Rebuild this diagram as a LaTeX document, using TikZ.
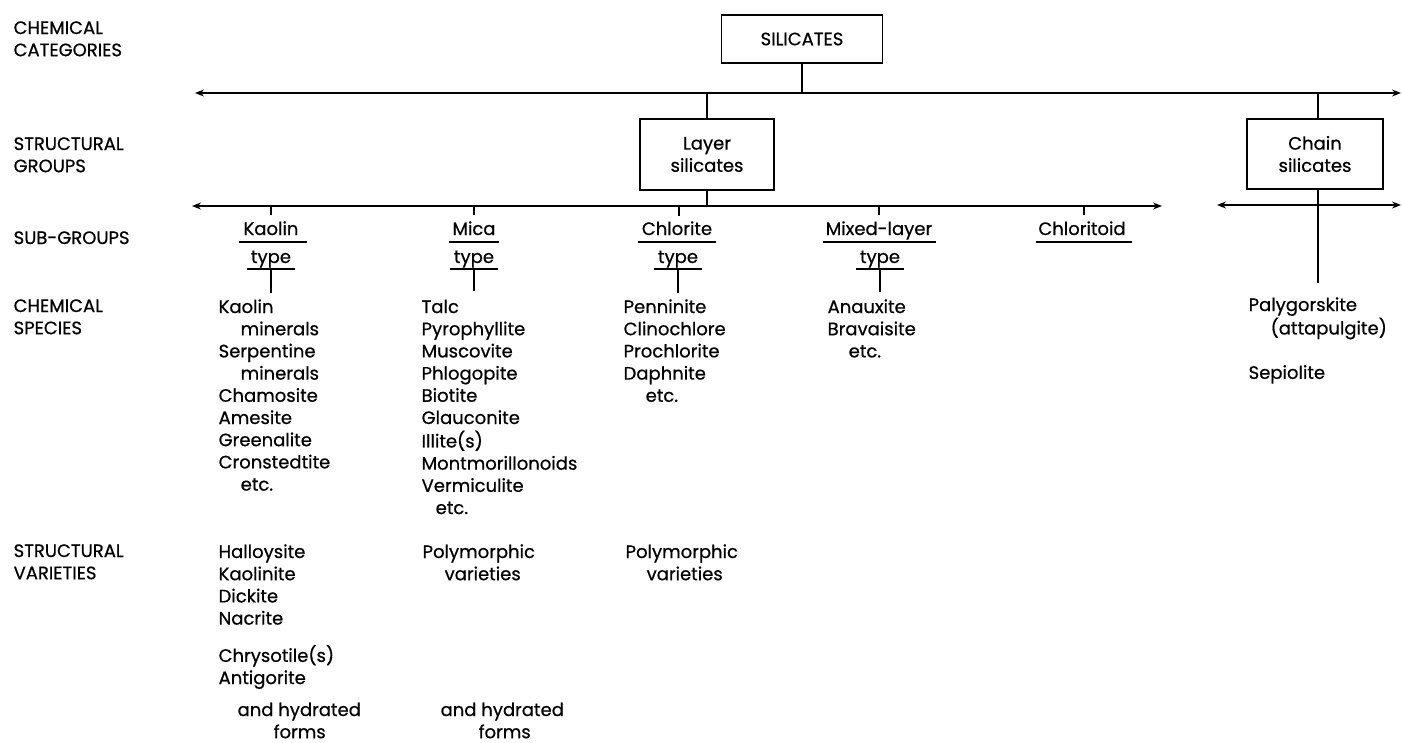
\documentclass[tikz,border=0pt]{standalone}
\usepackage{fontspec}
\setmainfont{Poppins}[FakeBold=0.6]
\usetikzlibrary{arrows.meta,calc}
\newcommand{\myfs}{\fontsize{18}{22.2}\selectfont}
\newcommand{\mycol}[1]{\begin{tabular}[t]{@{}l@{}}#1\end{tabular}}
\tikzset{
  lbl/.style={font=\myfs, inner sep=0pt, anchor=base west},
  sub/.style={font=\myfs, inner sep=0pt, anchor=base},
  box/.style={draw, line width=1.4pt, inner sep=0pt, align=center, font=\myfs},
  arr/.style={{Stealth[length=9pt,width=7pt]}-{Stealth[length=9pt,width=7pt]}},
}
\begin{document}
\begin{tikzpicture}[x=1pt,y=-1pt,line width=1.3pt]
\useasboundingbox (0,0) rectangle (1402,742);

% left level labels
\node[lbl] (lcat) at (13,34) {\mycol{CHEMICAL\\CATEGORIES}};
\node[lbl] (lgrp) at (13,150) {\mycol{STRUCTURAL\\GROUPS}};
\node[lbl] (lsub) at (13,244) {SUB-GROUPS};
\node[lbl] (lspe) at (13,312) {\mycol{CHEMICAL\\SPECIES}};
\node[lbl] (lvar) at (13,557) {\mycol{STRUCTURAL\\VARIETIES}};

% boxes
\node[box, minimum width=161pt, minimum height=48pt] (sil) at (802,39) {SILICATES};
\node[box, minimum width=134pt, minimum height=71pt] (layer) at (707,154.5) {Layer\\silicates};
\node[box, minimum width=136pt, minimum height=70pt] (chain) at (1315,154) {Chain\\silicates};

% main horizontal lines
\coordinate (t1) at (195,93);
\coordinate (t2) at (1401,93);
\draw[arr] (t1) -- (t2);
\draw (sil.south) -- (sil.south |- t1);
\draw (layer.north) -- (layer.north |- t1);
\draw ([xshift=3pt]chain.north) -- ([xshift=3pt]chain.north |- t1);

\coordinate (l1) at (192,206);
\coordinate (l2) at (1162,206);
\draw[arr] (l1) -- (l2);
\draw (layer.south) -- (layer.south |- l1);

\coordinate (c1) at (1217,205);
\coordinate (c2) at (1401,205);
\draw[arr] (c1) -- (c2);
\coordinate (chend) at (1318,283);
\draw ([xshift=3pt]chain.south) -- (chend);

% sub-groups
\node[sub] (kao) at (271,235) {Kaolin};
\node[sub] (kty) at (271,263) {type};
\node[sub] (mic) at (474,235) {Mica};
\node[sub] (mty) at (474,263) {type};
\node[sub] (chl) at (677,235) {Chlorite};
\node[sub] (cty) at (678,263) {type};
\node[sub] (mix) at (879,235) {Mixed-layer};
\node[sub] (xty) at (880,263) {type};
\node[sub] (cld) at (1082,235) {Chloritoid};

% ticks from sub-group line
\draw (l1 -| kao) -- ++(0,9);
\draw (l1 -| mic) -- ++(0,9);
\draw ([xshift=2pt]l1 -| chl) -- ++(0,10);
\draw (l1 -| mix) -- ++(0,9);
\draw ([xshift=2pt]l1 -| cld) -- ++(0,9);

% underlines
\foreach \n/\a/\b in {kao/4/8, mic/3/3, chl/3/3, mix/2/3, cld/2/6}{
  \draw[line width=1.1pt] ($(\n.base west)+(-\a,7)$) -- ($(\n.base east)+(\b,7)$);
}
\foreach \n in {kty,mty,cty,xty}{
  \draw[line width=1.1pt] ($(\n.base west)+(-3,6)$) -- ($(\n.base east)+(3,6)$);
}

% chemical species
\node[lbl] (kspe) at (218,313) {\mycol{Kaolin\\\hspace*{22pt}minerals\\Serpentine\\\hspace*{22pt}minerals\\Chamosite\\Amesite\\Greenalite\\Cronstedtite\\\hspace*{22pt}etc.}};
\node[lbl] (mspe) at (421,313) {\mycol{Talc\\Pyrophyllite\\Muscovite\\Phlogopite\\Biotite\\Glauconite\\Illite(s)\\Montmorillonoids\\Vermiculite\\\hspace*{14pt}etc.}};
\node[lbl] (cspe) at (623,313) {\mycol{Penninite\\Clinochlore\\Prochlorite\\Daphnite\\\hspace*{22pt}etc.}};
\node[lbl] (xspe) at (827,313) {\mycol{Anauxite\\Bravaisite\\\hspace*{21pt}etc.}};
\node[lbl] (hspe) at (1248,311) {\mycol{Palygorskite\\\hspace*{22pt}(attapulgite)\\[22.2pt]Sepiolite}};

% type -> species connectors
\draw ($(kty.base)+(0,6)$) -- ($(kty.base)+(0,30)$);
\draw ($(mty.base)+(0,6)$) -- ($(mty.base)+(0,28)$);
\draw ($(cty.base)+(0,6)$) -- ($(cty.base)+(0,30)$);
\draw ($(xty.base)+(0,6)$) -- ($(xty.base)+(0,29)$);

% structural varieties
\node[lbl] (kvar) at (218,558) {\mycol{Halloysite\\Kaolinite\\Dickite\\Nacrite\\[13.8pt]Chrysotile(s)\\Antigorite}};
\node[lbl] (kvar2) at (237,716) {\mycol{and hydrated\\\hspace*{36pt}forms}};
\node[lbl] (mvar) at (422,558) {\mycol{Polymorphic\\\hspace*{22pt}varieties}};
\node[lbl] (mvar2) at (440,716) {\mycol{and hydrated\\\hspace*{38pt}forms}};
\node[lbl] (cvar) at (625,558) {\mycol{Polymorphic\\\hspace*{21pt}varieties}};
\end{tikzpicture}
\end{document}
